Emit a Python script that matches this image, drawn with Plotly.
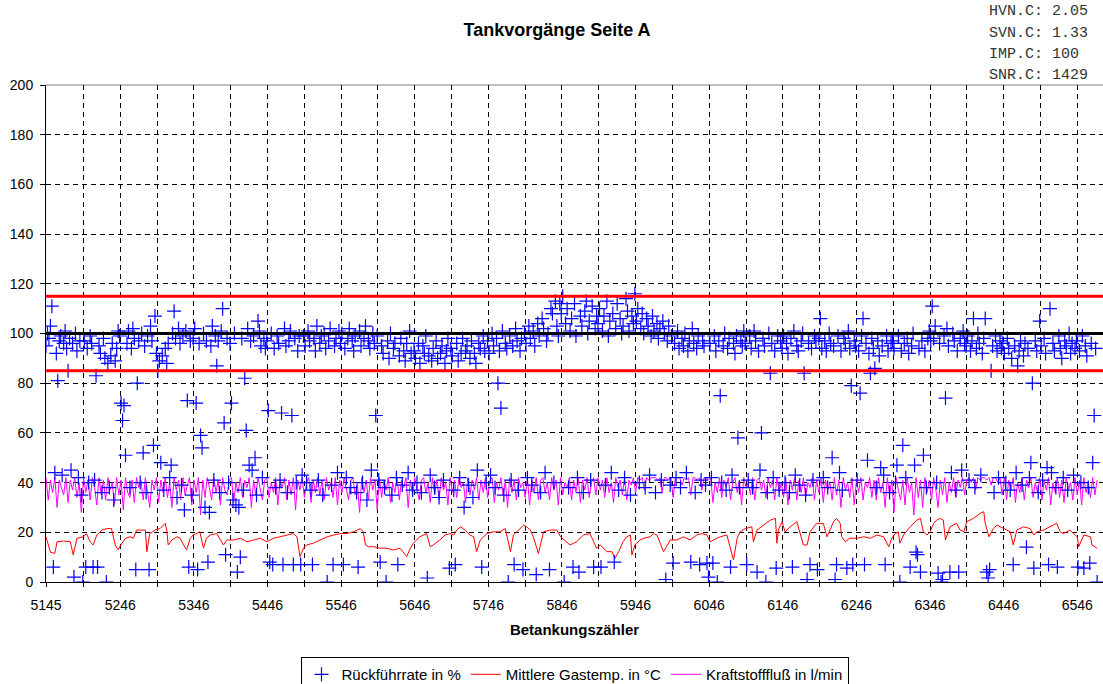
import plotly.graph_objects as go

# ---------------- data ----------------
counter_start = 5145
rueck_step = 2     # Rückführrate sampled every 2nd refuelling
fluss_step = 3     # Kraftstofffluß sampled every 3rd refuelling

rueck_y = [
    95, 100, 98, 103, 111, 6, 44, 92, 81, 97, 99, 43, 96, 101, 94, 85, 98, 45, 96, 2, 100, 93, 42, 97, 35,
    0, 97, 6, 94, 40, 99, 96, 6, 41, 83, 6, 95, 92, 36, 98, 90, 0, 88, 38, 91, 96, 33, 89, 94, 101,
    99, 72, 65, 71, 51, 96, 101, 38, 94, 102, 98, 5, 80, 97, 40, 100, 52, 95, 36, 99, 5, 103, 97, 55, 107,
    92, 85, 89, 48, 91, 37, 94, 88, 96, 42, 47, 100, 109, 98, 34, 102, 96, 39, 99, 29, 101, 73, 6, 97, 35,
    98, 102, 72, 5, 96, 59, 54, 100, 30, 97, 8, 28, 95, 103, 41, 99, 87, 97, 36, 101, 110, 64, 11, 98, 40,
    96, 72, 33, 100, 31, 4, 30, 10, 98, 37, 82, 61, 102, 47, 97, 45, 99, 50, 35, 105, 101, 95, 42, 98, 94,
    97, 69, 8, 100, 7, 94, 38, 99, 96, 41, 68, 7, 102, 95, 36, 97, 101, 67, 7, 98, 40, 93, 99, 7, 43,
    99, 95, 40, 101, 97, 37, 7, 98, 93, 103, 41, 96, 99, 35, 100, 94, 0, 97, 102, 39, 7, 95, 98, 44, 101,
    96, 100, 7, 94, 42, 98, 102, 38, 97, 93, 99, 36, 6, 101, 95, 40, 98, 103, 33, 97, 94, 45, 100, 96, 67,
    99, 41, 8, 95, 92, 38, 0, 97, 90, 100, 35, 94, 96, 42, 7, 91, 98, 39, 93, 89, 96, 44, 101, 92, 37,
    93, 90, 40, 96, 88, 36, 95, 92, 99, 1.6, 91, 43, 89, 94, 38, 97, 90, 34, 92, 95, 41, 88, 93, 98, 5.6,
    94, 91, 37, 7, 96, 89, 42, 92, 98, 30, 93, 95, 39, 90, 97, 34, 92, 88, 45, 96, 94, 6, 99, 93, 40,
    97, 92, 43, 100, 95, 38, 98, 80, 93, 70, 101, 35, 96, 94, 0, 99, 41, 95, 7, 102, 97, 37, 93, 98, 5,
    100, 96, 42, 103, 98, 39, 101, 95, 3, 104, 99, 36, 106, 102, 44, 97, 100, 5, 110, 108, 40, 113, 103, 99, 112,
    108, 115, 0, 104, 110, 38, 101, 106, 6, 112, 99, 42, 4, 107, 103, 36, 109, 113, 100, 105, 41, 111, 6, 102, 107,
    104, 110, 6, 101, 107, 39, 113, 99, 105, 44, 108, 8, 102, 112, 37, 106, 100, 103, 42, 114, 109, 101, 35, 107, 104,
    116, 105, 110, 40, 102, 108, 100, 38, 106, 103, 43, 99, 107, 101, 36, 104, 98, 102, 41, 105, 100, 1, 97, 103, 39,
    99, 7.6, 96, 42, 101, 94, 38, 98, 95, 100, 44, 93, 97, 8, 102, 96, 36, 94, 99, 7, 41, 97, 95, 39, 7.6,
    2, 96, 42, 7.6, 99, 93, 0, 97, 75, 40, 95, 100, 37, 94, 98, 6, 43, 96, 92, 99, 58, 38, 97, 95, 101,
    96, 7, 41, 99, 94, 38, 101, 97, 4, 93, 45, 60, 98, 95, 0, 36, 100, 84, 96, 42, 93, 5.6, 99, 37, 97,
    94, 99, 40, 96, 92, 36, 98, 6, 101, 43, 95, 93, 39, 97, 100, 84, 35, 1, 96, 7, 94, 41, 99, 97, 5,
    98, 106, 94, 42, 97, 93, 38, 100, 96, 50, 95, 1, 7, 99, 44, 93, 37, 98, 96, 5.6, 101, 94, 79, 7, 97,
    95, 41, 93, 76, 99, 106, 7, 96, 49, 92, 84, 98, 94, 86, 38, 97, 91, 46, 95, 43, 7, 99, 93, 36, 96,
    97, 94, 40, 47, 99, 0, 93, 55, 96, 42, 98, 92, 6, 95, 100, 47, 12, 11, 94, 4, 97, 51, 93, 38, 98,
    101, 97, 111, 98, 103, 40, 3.6, 96, 0, 1, 99, 74, 102, 95, 4, 44, 100, 97, 37, 93, 4, 98, 45, 101, 96,
    95, 99, 41, 93, 97, 106, 38, 94, 100, 96, 43, 92, 98, 106, 4, 1.6, 5, 85, 95, 36, 99, 93, 42, 97, 94,
    96, 92, 40, 98, 94, 37, 90, 7, 95, 44, 87, 93, 97, 39, 91, 96, 14, 94, 42, 48, 80, 5.6, 97, 93, 36,
    105, 95, 41, 98, 92, 46, 7, 110, 44, 96, 93, 38, 6, 99, 94, 90, 42, 97, 95, 37, 100, 92, 96, 43, 94,
    97, 6, 93, 40, 99, 5.6, 95, 91, 38, 7.6, 96, 48, 67, 94, 0,
]

temp_points = [
    (5145, 18.2), (5151, 12.0), (5157, 11.5), (5160, 16.2), (5169, 16.5), (5178, 16.2), (5182, 10.9),
    (5187, 17.6), (5196, 18.2), (5200, 19.5), (5205, 16.2), (5209, 14.9), (5214, 18.9), (5221, 20.9),
    (5228, 21.5), (5234, 21.5), (5239, 14.9), (5243, 12.9), (5248, 15.6), (5253, 17.6), (5259, 18.2),
    (5264, 17.6), (5268, 20.9), (5280, 20.9), (5282, 12.2), (5286, 19.5), (5293, 20.9), (5300, 21.5),
    (5307, 23.6), (5309, 20.9), (5311, 14.9), (5316, 16.9), (5323, 18.2), (5327, 17.6), (5332, 14.9),
    (5336, 12.9), (5341, 17.6), (5345, 18.9), (5354, 20.2), (5359, 13.6), (5363, 17.6), (5368, 18.9),
    (5377, 19.5), (5382, 16.9), (5386, 14.9), (5391, 16.9), (5400, 16.9), (5409, 17.6), (5418, 16.2),
    (5427, 16.9), (5436, 17.6), (5445, 16.2), (5454, 17.6), (5463, 18.2), (5472, 18.9), (5481, 19.5),
    (5486, 18.2), (5490, 10.2), (5495, 13.6), (5499, 14.9), (5508, 15.6), (5517, 16.9), (5527, 18.2),
    (5536, 18.9), (5545, 19.5), (5554, 19.5), (5563, 20.2), (5572, 21.5), (5576, 20.2), (5579, 14.9),
    (5583, 14.2), (5590, 14.2), (5599, 13.6), (5608, 13.6), (5617, 12.9), (5626, 13.6), (5635, 10.2),
    (5640, 13.6), (5644, 15.6), (5653, 18.2), (5662, 19.5), (5667, 14.2), (5671, 14.9), (5680, 16.9),
    (5687, 18.9), (5694, 19.5), (5699, 18.9), (5703, 20.9), (5708, 22.2), (5712, 21.5), (5717, 20.2),
    (5721, 18.9), (5726, 18.2), (5730, 12.2), (5735, 16.9), (5744, 19.5), (5753, 20.2), (5762, 20.2),
    (5769, 21.5), (5776, 12.2), (5780, 18.9), (5789, 21.5), (5794, 22.9), (5798, 22.2), (5803, 20.9),
    (5807, 18.2), (5814, 11.5), (5821, 20.2), (5830, 20.9), (5839, 20.9), (5844, 18.2), (5857, 14.9),
    (5866, 16.2), (5875, 18.9), (5884, 19.5), (5889, 16.2), (5893, 13.6), (5898, 14.9), (5902, 13.6),
    (5907, 12.2), (5914, 12.2), (5918, 9.5), (5923, 12.2), (5929, 16.2), (5934, 18.2), (5939, 18.9),
    (5941, 10.9), (5945, 14.9), (5952, 16.9), (5957, 17.6), (5966, 18.2), (5970, 19.5), (5975, 18.9),
    (5979, 16.2), (5984, 12.2), (5988, 14.2), (5993, 16.9), (6002, 16.9), (6011, 18.2), (6020, 16.9),
    (6025, 18.2), (6029, 18.9), (6036, 19.5), (6043, 18.9), (6047, 16.2), (6052, 16.9), (6061, 18.2),
    (6070, 18.9), (6079, 8.9), (6084, 17.6), (6088, 20.2), (6095, 21.5), (6104, 22.2), (6106, 16.2),
    (6111, 20.9), (6120, 22.9), (6129, 24.9), (6136, 25.6), (6138, 15.6), (6140, 20.9), (6145, 24.3),
    (6149, 20.2), (6156, 22.2), (6165, 24.3), (6174, 14.9), (6179, 14.9), (6183, 20.2), (6192, 23.6),
    (6201, 23.6), (6206, 18.2), (6215, 24.3), (6219, 25.6), (6224, 23.6), (6226, 18.2), (6231, 16.2),
    (6237, 17.6), (6247, 17.6), (6256, 18.2), (6265, 17.6), (6274, 18.9), (6283, 18.2), (6290, 14.2),
    (6294, 17.6), (6299, 19.5), (6303, 20.2), (6305, 15.6), (6310, 18.9), (6319, 22.2), (6324, 23.6),
    (6328, 24.9), (6333, 25.6), (6337, 20.2), (6342, 18.9), (6346, 20.2), (6351, 23.6), (6355, 24.9),
    (6360, 25.6), (6364, 24.9), (6367, 16.9), (6373, 22.2), (6382, 23.6), (6387, 20.9), (6392, 20.2),
    (6396, 24.3), (6405, 25.6), (6414, 27.6), (6419, 28.3), (6421, 23.6), (6426, 18.2), (6432, 21.5),
    (6437, 22.9), (6446, 21.5), (6455, 20.2), (6459, 14.9), (6464, 20.9), (6473, 22.2), (6482, 21.5),
    (6487, 18.9), (6491, 20.2), (6500, 20.9), (6509, 22.2), (6518, 23.6), (6523, 20.2), (6527, 19.5),
    (6532, 20.2), (6536, 20.9), (6541, 19.5), (6546, 18.2), (6548, 14.2), (6555, 18.9), (6564, 18.2),
    (6566, 14.9), (6573, 13.6),
]

fluss_y = [
    42, 33, 41, 36, 42, 30, 41, 38, 35, 42, 32, 41, 37, 42, 34, 40, 28, 42, 36, 41, 33, 42, 38, 31, 42,
    35, 41, 33, 42, 37, 40, 31, 42, 35, 41, 29, 42, 36, 34, 41, 32, 42, 38, 41, 33, 42, 36, 30, 41, 37,
    42, 32, 41, 36, 42, 34, 40, 30, 42, 37, 41, 33, 42, 35, 39, 42, 31, 41, 36, 42, 27, 41, 34, 42, 38,
    33, 42, 36, 41, 31, 42, 37, 35, 41, 42, 32, 40, 36, 42, 34, 41, 38, 42, 30, 41, 35, 42, 37, 33, 41,
    42, 34, 40, 36, 42, 31, 41, 38, 42, 33, 41, 35, 42, 29, 41, 37, 42, 34, 40, 42, 32, 41, 36, 42, 35,
    41, 33, 42, 37, 40, 34, 42, 31, 41, 36, 42, 38, 33, 41, 42, 35, 40, 28, 42, 36, 41, 33, 42, 37, 41,
    29, 42, 34, 41, 37, 42, 32, 40, 36, 42, 33, 41, 38, 42, 30, 41, 35, 42, 37, 33, 41, 42, 36, 40, 32,
    42, 35, 41, 33, 42, 37, 40, 31, 42, 36, 41, 34, 42, 38, 40, 32, 42, 35, 41, 37, 42, 33, 41, 36, 42,
    34, 41, 42, 32, 40, 37, 42, 35, 41, 30, 42, 36, 41, 33, 42, 38, 40, 34, 42, 31, 41, 36, 42, 33, 41,
    42, 36, 40, 33, 42, 37, 41, 31, 42, 35, 40, 38, 42, 33, 41, 36, 42, 32, 41, 37, 42, 34, 40, 42, 35,
    42, 37, 41, 34, 42, 36, 40, 32, 42, 38, 41, 35, 42, 33, 41, 39, 42, 36, 42, 41, 42, 37, 42, 41, 42,
    42, 42, 41, 42, 36, 42, 42, 41, 42, 34, 42, 42, 42, 39, 42, 41, 42, 35, 42, 42, 41, 42, 37, 42, 42,
    41, 42, 32, 40, 36, 42, 34, 41, 38, 42, 33, 40, 42, 36, 41, 31, 42, 38, 40, 35, 42, 33, 41, 42, 37,
    41, 34, 42, 38, 41, 33, 42, 36, 40, 34, 42, 31, 41, 37, 42, 33, 41, 36, 42, 34, 40, 38, 42, 33, 41,
    36, 42, 32, 41, 37, 40, 33, 42, 35, 41, 30, 42, 37, 40, 34, 42, 31, 41, 36, 42, 33, 40, 38, 42, 34,
    41, 33, 42, 36, 40, 30, 42, 35, 41, 28, 42, 37, 33, 41, 31, 42, 36, 40, 27, 42, 34, 41, 30, 42, 36,
    41, 33, 42, 37, 30, 41, 35, 42, 32, 40, 36, 42, 34, 41, 38, 42, 35, 41, 42, 40, 42, 37, 42, 41, 42,
    42, 41, 42, 39, 42, 42, 40, 42, 35, 42, 33, 41, 37, 42, 32, 40, 36, 42, 33, 41, 38, 42, 34, 40, 36,
    42, 33, 41, 37, 42, 31, 40, 36, 42, 34, 41, 32, 42, 37, 40, 33, 42, 35, 41, 31, 42, 36, 40, 34, 42,
    35, 41,
]

limit_values = [85, 115]
target_value = 100

x_tick_positions = [5145] + [5146 + 50 * k for k in range(1, 30)]
x_tick_labels = [str(v) if i % 2 == 0 else "" for i, v in enumerate(x_tick_positions)]

info_lines = ["HVN.C: 2.05", "SVN.C: 1.33", "IMP.C: 100", "SNR.C: 1429"]

series_names = ["Rückführrate in %", "Mittlere Gastemp. in °C", "Kraftstofffluß in l/min"]

# ---------------- figure ----------------
rueck_x = [counter_start + rueck_step * i for i in range(len(rueck_y))]
fluss_x = [counter_start + fluss_step * i for i in range(len(fluss_y))]
temp_x = [p[0] for p in temp_points]
temp_y = [p[1] for p in temp_points]

fig = go.Figure()

fig.add_trace(go.Scatter(
    x=fluss_x, y=fluss_y, mode="lines", name=series_names[2],
    line=dict(color="#FF00FF", width=1), legendrank=3,
))
fig.add_trace(go.Scatter(
    x=temp_x, y=temp_y, mode="lines", name=series_names[1],
    line=dict(color="#FF0000", width=1), legendrank=2,
))
fig.add_trace(go.Scatter(
    x=rueck_x, y=rueck_y, mode="markers", name=series_names[0],
    marker=dict(symbol="cross-thin", size=10, line=dict(color="#0000FF", width=1.2), color="#0000FF"),
    legendrank=1,
))

for v in limit_values:
    fig.add_shape(type="line", xref="paper", x0=0, x1=1, yref="y", y0=v, y1=v,
                  line=dict(color="#FF0000", width=3), layer="above")
fig.add_shape(type="line", xref="paper", x0=0, x1=1, yref="y", y0=target_value, y1=target_value,
              line=dict(color="#000000", width=3), layer="above")
# top border of plot area
fig.add_shape(type="line", xref="paper", x0=0, x1=1, yref="paper", y0=1, y1=1,
              line=dict(color="#808080", width=1), layer="below")

for i, txt in enumerate(info_lines):
    fig.add_annotation(text=txt, xref="paper", yref="paper", x=0.890, y=1.147 - 0.0425 * i,
                       xanchor="left", yanchor="middle", showarrow=False,
                       font=dict(family="Liberation Mono, Courier New, monospace", size=15, color="#333333"))

fig.update_layout(
    width=1103, height=684,
    margin=dict(l=46, r=0, t=85, b=102, autoexpand=False),
    paper_bgcolor="white", plot_bgcolor="white",
    font=dict(family="Liberation Sans, Arial, sans-serif", color="#000000"),
    title=dict(text="<b>Tankvorgänge Seite A</b>", x=0.505, xanchor="center",
               y=1 - 30 / 684, yanchor="middle", font=dict(size=18, color="#000000")),
    showlegend=True,
    legend=dict(orientation="h", x=0.5, xanchor="center", y=-0.151, yanchor="top",
                bordercolor="#000000", borderwidth=1, font=dict(size=15),
                traceorder="normal", itemwidth=30),
)

fig.update_xaxes(
    range=[5145, 6581], tickmode="array", tickvals=x_tick_positions, ticktext=x_tick_labels,
    showgrid=True, gridcolor="#000000", gridwidth=1, griddash="5px,4px",
    showline=True, linecolor="#000000", linewidth=1, zeroline=False,
    ticks="outside", ticklen=4, tickcolor="#000000", tickfont=dict(size=14),
    ticklabelstandoff=6,
    title=dict(text="<b>Betankungszähler</b>", font=dict(size=15), standoff=12),
)
fig.update_yaxes(
    range=[0, 200], dtick=20, tick0=0,
    showgrid=True, gridcolor="#000000", gridwidth=1, griddash="5px,4px",
    showline=True, linecolor="#000000", linewidth=1, zeroline=False,
    ticks="outside", ticklen=5, tickcolor="#000000", tickfont=dict(size=14),
    ticklabelstandoff=4,
)

fig.write_html(
    "out.html",
    config={"displayModeBar": False},
    post_script="document.body.style.margin='0px';document.body.style.overflow='hidden';",
)
